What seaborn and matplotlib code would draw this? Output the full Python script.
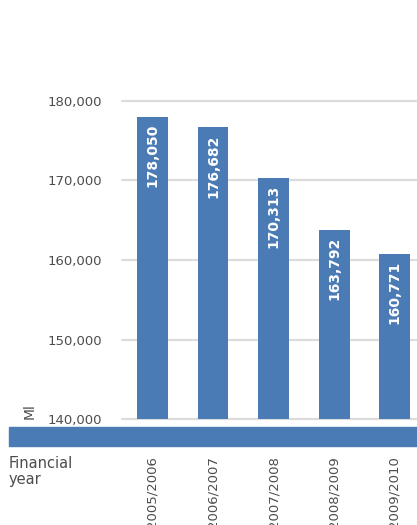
import matplotlib
matplotlib.use("Agg")
import matplotlib.pyplot as plt
import seaborn as sns
import pandas as pd
from matplotlib.patches import Rectangle

years = ["2005/2006", "2006/2007", "2007/2008", "2008/2009", "2009/2010"]
volumes = [178050, 176682, 170313, 163792, 160771]
y_ticks = [140000, 150000, 160000, 170000, 180000]

BLUE = "#4a7bb5"
GRID = "#dcdcdc"
TEXT = "#4d4d4d"

sns.set_theme(style="white")
plt.rcParams["font.family"] = ["DejaVu Sans"]

df = pd.DataFrame({"year": years, "volume": volumes})

W, H = 417, 525
fig = plt.figure(figsize=(W / 100, H / 100), dpi=100)
ax = fig.add_axes([122 / W, (H - 419) / H, 295 / W, 318 / H])

sns.barplot(data=df, x="year", y="volume", order=years, color=BLUE,
            saturation=1, width=0.51, linewidth=0, ax=ax, zorder=3)

ax.set_ylim(140000, 180000)
ax.set_xlim(-0.504, 4.37)
for t in y_ticks:
    ax.axhline(t, color=GRID, lw=1.6, zorder=1, clip_on=False)
for s in ax.spines.values():
    s.set_visible(False)

ax.set_yticks(y_ticks)
ax.set_yticklabels([f"{v:,}" for v in y_ticks], color=TEXT, fontsize=9.5)
ax.tick_params(axis="y", length=0, pad=14)
ax.set_xticks([])
ax.set_xlabel("")
ax.set_ylabel("")

# value labels inside bars
for i, v in enumerate(volumes):
    ax.text(i, v - 900, f"{v:,}", rotation=90, ha="center", va="top",
            color="white", fontsize=10, fontweight="bold", zorder=4)

# unit label
fig.text(30 / W, 1 - 411 / H, "Ml", rotation=90, ha="center", va="center",
         color=TEXT, fontsize=10)

# blue band under the chart
fig.patches.append(Rectangle((9 / W, 1 - 446 / H), (W - 9) / W, 19 / H,
                             transform=fig.transFigure, color=BLUE, zorder=0))

# category labels below the band
for i, y in enumerate(years):
    xpix = 152.5 + i * 60.5
    fig.text(xpix / W, 1 - 456 / H, y, rotation=90, ha="center", va="top",
             color=TEXT, fontsize=9.5)

fig.text(9 / W, 1 - 456 / H, "Financial\nyear", ha="left", va="top",
         color=TEXT, fontsize=10.5, linespacing=1.1)

fig.savefig("out.png", dpi=100)
